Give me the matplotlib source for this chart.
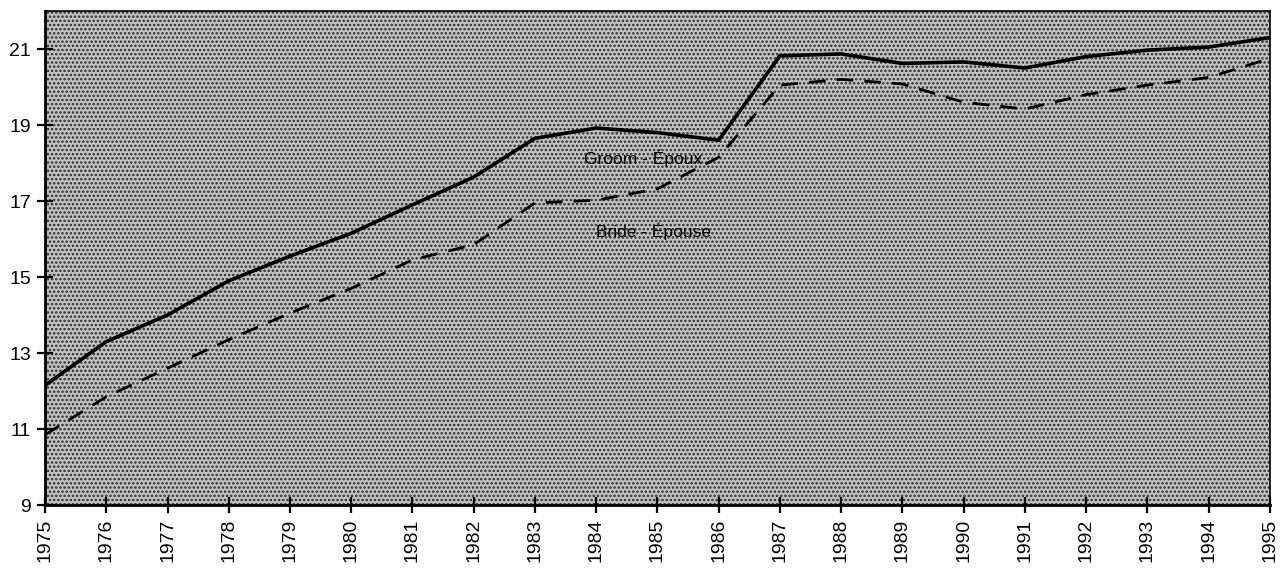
import matplotlib.pyplot as plt
from matplotlib.patches import Rectangle

# Années et âges
years = list(range(1975, 1996))
groom = [12.15, 13.3, 14.0, 14.9, 15.55, 16.15, 16.9, 17.63, 18.65, 18.92, 18.8, 18.6,
         20.82, 20.87, 20.62, 20.66, 20.5, 20.8, 20.97, 21.05, 21.3]
bride = [10.85, 11.85, 12.6, 13.35, 14.05, 14.7, 15.45, 15.85, 16.95, 17.02, 17.32, 18.15,
         20.05, 20.2, 20.08, 19.6, 19.42, 19.8, 20.05, 20.25, 20.75]
y_ticks = [9, 11, 13, 15, 17, 19, 21]

plt.rcParams['font.family'] = ['Liberation Sans', 'DejaVu Sans']
plt.rcParams['hatch.linewidth'] = 1.2

fig = plt.figure(figsize=(12.8, 5.7), dpi=100)
ax = fig.add_axes([0.0352, 0.114, 0.9568, 0.8667])

# fond tramé
ax.set_facecolor('#c2c2c2')
bg = Rectangle((0, 0), 1, 1, transform=ax.transAxes, facecolor='none',
               edgecolor='#2a2a2a', hatch='....', linewidth=0, zorder=0)
ax.add_patch(bg)

ax.plot(years, groom, color='black', linewidth=2.6, solid_joinstyle='miter', zorder=3)
ax.plot(years, bride, color='black', linewidth=2.0, linestyle=(0, (6, 4)), zorder=3)

ax.text(1984.76, 18.13, 'Groom - Époux', fontsize=12.5, ha='center', va='center')
ax.text(1984.94, 16.2, 'Bride - Épouse', fontsize=12.5, ha='center', va='center')

ax.set_xlim(1975, 1995)
ax.set_ylim(9, 22)
ax.set_xticks(years)
ax.set_xticklabels([str(y) for y in years], rotation=90, fontsize=14)
ax.set_yticks(y_ticks)
ax.set_yticklabels([str(v) for v in y_ticks], fontsize=14)
ax.tick_params(direction='inout', length=12, width=1.6, pad=4)

for side in ['left', 'bottom']:
    ax.spines[side].set_linewidth(2.0)
for side in ['top', 'right']:
    ax.spines[side].set_linewidth(1.2)

fig.savefig('out.png', dpi=100)
